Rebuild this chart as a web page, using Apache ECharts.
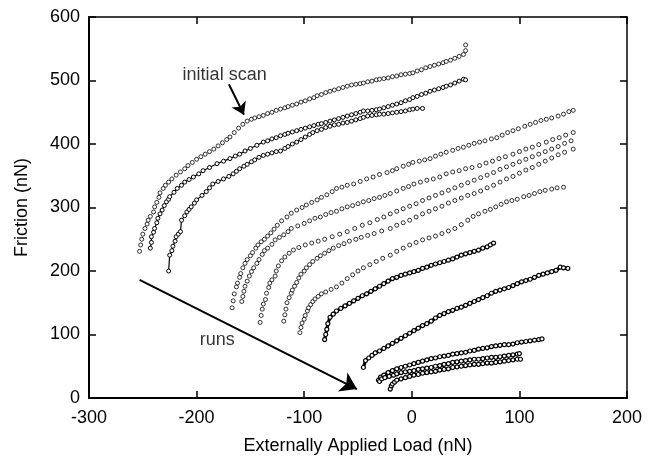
<!DOCTYPE html>
<html><head><meta charset="utf-8">
<script src="https://cdn.jsdelivr.net/npm/echarts@6/dist/echarts.min.js"></script>
<style>html,body{margin:0;padding:0;background:#fff}#c{width:648px;height:460px}</style>
</head><body><div id="c"></div>
<script>
const xAxisRange = [-300, 200];
const yAxisRange = [0, 600];
const tickStep = 100;
const xTitle = 'Externally Applied Load (nN)';
const yTitle = 'Friction (nN)';

// initial scan group (three top curves)
const scanA1 = [[-253,231],[-252,241],[-251,250],[-250,258],[-248,267],[-246,274],[-245,280],[-243,286],[-240,293],[-239,301],[-237,308],[-235,316],[-234,323],[-231,330],[-229,335],[-226,340],[-223,345],[-219,351],[-215,356],[-211,361],[-208,366],[-204,371],[-200,376],[-196,380],[-192,384],[-188,388],[-184,392],[-180,397],[-176,402],[-172,407],[-169,411],[-165,418],[-161,425],[-157,431],[-153,436],[-149,439],[-146,441],[-142,443],[-138,445],[-134,448],[-130,450],[-126,453],[-122,455],[-118,457],[-115,459],[-111,461],[-107,463],[-103,466],[-99,468],[-95,471],[-91,473],[-88,476],[-84,478],[-80,481],[-76,483],[-72,485],[-68,487],[-64,489],[-60,491],[-56,493],[-52,494],[-48,495],[-45,496],[-41,498],[-37,499],[-33,501],[-30,502],[-26,503],[-22,504],[-18,506],[-14,507],[-10,509],[-6,510],[-2,511],[1,512],[5,515],[9,517],[13,520],[17,522],[21,524],[25,526],[29,528],[32,530],[36,532],[40,535],[44,538],[48,541],[50,547],[50,556]];
const scanA2 = [[-243,236],[-242,245],[-242,254],[-240,261],[-239,267],[-237,276],[-236,283],[-234,290],[-232,296],[-230,303],[-228,309],[-226,313],[-225,317],[-221,324],[-218,330],[-214,335],[-211,340],[-207,344],[-203,348],[-198,353],[-194,358],[-188,363],[-181,369],[-175,373],[-169,377],[-164,381],[-160,384],[-155,389],[-150,393],[-144,398],[-138,403],[-134,405],[-130,408],[-126,410],[-122,413],[-118,415],[-115,417],[-111,419],[-107,421],[-103,423],[-99,425],[-95,427],[-91,429],[-87,431],[-84,432],[-80,434],[-76,436],[-72,438],[-68,440],[-64,442],[-60,444],[-56,446],[-52,448],[-48,450],[-45,452],[-41,452],[-37,453],[-33,454],[-30,455],[-26,457],[-22,459],[-18,461],[-14,463],[-10,465],[-6,468],[-2,470],[1,473],[5,475],[9,478],[13,480],[17,483],[21,485],[25,487],[29,489],[32,491],[36,493],[40,496],[44,499],[48,502],[50,501]];
const scanA3 = [[-226,200],[-225,225],[-223,232],[-222,239],[-220,247],[-219,254],[-217,258],[-215,262],[-214,280],[-211,287],[-209,293],[-207,297],[-205,301],[-202,307],[-200,312],[-195,319],[-191,325],[-188,331],[-185,337],[-180,341],[-175,345],[-170,349],[-166,353],[-163,357],[-160,361],[-156,365],[-153,368],[-149,372],[-146,375],[-142,379],[-138,382],[-134,384],[-130,386],[-126,388],[-122,389],[-118,393],[-115,396],[-111,400],[-107,403],[-103,407],[-99,411],[-95,415],[-92,418],[-88,421],[-84,423],[-80,426],[-76,428],[-72,430],[-68,431],[-64,433],[-60,434],[-56,436],[-52,438],[-48,440],[-45,442],[-41,444],[-37,445],[-33,446],[-30,447],[-26,447],[-22,448],[-18,449],[-14,450],[-10,451],[-6,452],[-2,454],[1,455],[5,456],[10,456]];

// later runs, sparse circles
const runB1 = [[-167,142],[-166,153],[-165,164],[-163,175],[-162,181],[-160,190],[-159,196],[-157,205],[-155,212],[-153,218],[-150,224],[-148,229],[-145,236],[-143,241],[-140,246],[-137,250],[-134,255],[-131,260],[-128,266],[-125,272],[-121,279],[-116,285],[-112,291],[-107,296],[-102,300],[-98,304],[-93,308],[-88,312],[-84,316],[-79,320],[-74,325],[-70,330],[-65,332],[-60,335],[-54,337],[-48,341],[-42,345],[-36,348],[-30,352],[-23,355],[-18,358],[-14,361],[-8,365],[-3,368],[1,371],[7,373],[12,375],[17,377],[22,381],[27,384],[32,387],[38,390],[43,393],[48,395],[53,398],[58,401],[63,403],[68,405],[74,408],[79,410],[84,414],[89,418],[94,421],[99,424],[105,428],[110,431],[115,434],[120,437],[125,439],[130,441],[136,444],[141,447],[146,451],[150,453]];
const runB2 = [[-158,152],[-157,160],[-156,168],[-155,176],[-153,184],[-151,192],[-149,199],[-147,205],[-144,212],[-142,218],[-139,226],[-137,232],[-134,236],[-130,242],[-127,249],[-123,253],[-119,257],[-115,262],[-112,267],[-106,271],[-100,275],[-95,279],[-90,283],[-85,285],[-80,289],[-75,292],[-70,294],[-65,298],[-60,301],[-55,303],[-50,306],[-45,309],[-40,311],[-35,314],[-30,316],[-25,319],[-20,322],[-14,326],[-8,330],[-3,333],[2,337],[8,340],[14,343],[20,345],[26,348],[32,353],[38,356],[44,358],[50,361],[56,363],[63,366],[69,370],[75,373],[81,377],[87,380],[94,384],[100,388],[106,392],[112,395],[118,399],[125,403],[131,407],[137,410],[143,414],[150,418]];
const runB3 = [[-141,119],[-140,130],[-139,140],[-138,148],[-136,155],[-135,165],[-133,174],[-132,181],[-130,186],[-127,192],[-126,200],[-124,208],[-121,216],[-118,222],[-114,228],[-110,233],[-105,237],[-99,241],[-93,244],[-87,247],[-81,250],[-74,254],[-67,258],[-60,262],[-53,267],[-46,272],[-39,276],[-32,281],[-26,285],[-20,290],[-14,294],[-8,298],[-2,302],[4,306],[10,311],[16,315],[22,319],[28,323],[34,327],[40,331],[46,335],[52,339],[58,343],[64,347],[70,351],[76,355],[82,360],[88,364],[94,368],[100,372],[106,376],[112,380],[118,384],[124,388],[130,392],[136,396],[142,401],[148,405]];
const runB4 = [[-119,121],[-118,131],[-117,140],[-116,150],[-114,158],[-112,165],[-111,170],[-109,176],[-107,182],[-105,189],[-103,195],[-100,200],[-98,205],[-95,210],[-92,215],[-88,220],[-85,224],[-81,228],[-77,232],[-73,236],[-68,240],[-63,243],[-58,247],[-52,250],[-47,253],[-41,256],[-35,259],[-28,263],[-20,267],[-14,272],[-8,276],[-2,280],[4,285],[10,290],[16,294],[22,298],[28,302],[34,307],[40,311],[46,315],[52,319],[58,322],[64,326],[70,331],[76,335],[82,340],[88,345],[94,349],[100,354],[106,359],[112,363],[118,368],[124,373],[130,378],[136,383],[142,387],[150,392]];
const runB5 = [[-104,103],[-103,111],[-102,118],[-100,124],[-99,130],[-97,137],[-96,142],[-94,147],[-92,152],[-90,156],[-87,160],[-84,164],[-80,167],[-75,171],[-70,175],[-65,181],[-60,188],[-55,194],[-50,200],[-45,205],[-39,210],[-33,215],[-27,220],[-20,225],[-14,231],[-8,236],[-2,241],[4,245],[10,249],[16,252],[22,255],[28,259],[34,263],[40,267],[46,273],[52,280],[57,286],[62,290],[68,294],[73,297],[78,301],[83,305],[88,309],[93,311],[98,313],[104,317],[109,319],[114,322],[119,325],[124,327],[130,329],[135,331],[141,332]];

// later runs, dense traces
const runC1 = [[-81,92],[-80,100],[-79,108],[-78,117],[-76,127],[-73,132],[-70,137],[-66,141],[-62,145],[-58,149],[-54,153],[-50,157],[-46,161],[-42,164],[-38,168],[-34,172],[-30,176],[-26,180],[-22,184],[-18,188],[-14,190],[-10,193],[-6,195],[-2,197],[2,199],[6,201],[10,204],[14,206],[18,209],[22,211],[26,213],[30,215],[34,217],[38,219],[42,222],[46,225],[50,227],[54,229],[58,231],[62,233],[66,236],[70,238],[73,241],[76,244]];
const runC2 = [[-45,48],[-43,59],[-40,63],[-37,67],[-34,71],[-30,74],[-26,78],[-22,82],[-18,86],[-14,90],[-10,94],[-6,98],[-2,102],[2,106],[6,110],[10,114],[14,117],[18,121],[22,126],[26,130],[30,133],[34,136],[38,138],[42,141],[46,143],[50,146],[54,149],[58,152],[62,155],[66,158],[70,161],[74,165],[78,168],[82,170],[86,172],[90,174],[94,177],[98,180],[102,183],[106,185],[110,187],[114,190],[118,193],[122,195],[126,197],[130,199],[134,201],[138,206],[141,205],[145,204]];
const runD1 = [[-31,28],[-29,33],[-26,36],[-22,40],[-18,43],[-14,46],[-10,48],[-6,50],[-2,52],[2,54],[6,56],[10,58],[14,60],[18,62],[22,63],[26,65],[30,66],[34,67],[38,69],[42,70],[46,71],[50,72],[54,74],[58,75],[62,77],[66,78],[70,79],[74,81],[78,82],[82,83],[86,84],[90,84],[94,85],[98,87],[102,88],[106,89],[110,90],[114,91],[118,92],[121,93]];
const runD2 = [[-30,26],[-28,30],[-25,32],[-21,34],[-17,36],[-14,38],[-10,40],[-6,41],[-2,42],[2,43],[6,45],[10,46],[14,47],[18,48],[22,50],[26,51],[30,53],[34,54],[38,56],[42,57],[46,58],[50,59],[54,60],[58,61],[62,61],[66,62],[70,63],[74,64],[78,64],[82,65],[86,66],[90,67],[94,68],[98,69],[100,70]];
const runD3 = [[-20,14],[-19,19],[-18,22],[-16,25],[-14,28],[-10,30],[-6,32],[-2,34],[2,36],[6,37],[10,39],[14,40],[18,41],[22,42],[26,44],[30,45],[34,46],[38,48],[42,49],[46,50],[50,51],[54,52],[58,53],[62,53],[66,54],[70,55],[74,55],[78,56],[82,57],[86,58],[90,59],[94,60],[98,61],[101,61]];

// annotations in data coordinates
const noteTexts = ['initial scan', 'runs'];
const notePos = [[-213, 509], [-197, 91]];
const arrowFrom = [[-170, 494], [-253, 186]];
const arrowTo = [[-156, 446], [-51, 14]];
const arrowHead = [12, 16];

const FONT = 'Liberation Sans, Arial, Helvetica, sans-serif';

const sparse = (d) => ({type:'scatter', data:d, symbol:'circle', symbolSize:4,
  itemStyle:{color:'#fff', borderColor:'#000', borderWidth:1}, silent:true});
const medium = (d) => ({type:'line', data:d, symbol:'circle', symbolSize:4, showSymbol:true, showAllSymbol:true,
  lineStyle:{color:'#000', width:1.2}, itemStyle:{color:'#fff', borderColor:'#000', borderWidth:1}, silent:true});
const dense = (d) => ({type:'line', data:d, symbol:'circle', symbolSize:4, showSymbol:true, showAllSymbol:true,
  lineStyle:{color:'#000', width:3.2}, itemStyle:{color:'#fff', borderColor:'#000', borderWidth:1.2}, silent:true});

const arrowSeries = arrowFrom.map((f, i) => ({
  type:'line', data:[], silent:true,
  markLine:{silent:true, animation:false, symbol:['none','arrow'], symbolSize:arrowHead[i],
    label:{show:false}, emphasis:{disabled:true},
    lineStyle:{color:'#000', width:2, type:'solid', opacity:1},
    itemStyle:{color:'#000'},
    data:[[{coord:f},{coord:arrowTo[i]}]]}
}));

const series = [
  sparse(scanA1), medium(scanA2), medium(scanA3),
  sparse(runB1), sparse(runB2), sparse(runB3), sparse(runB4), sparse(runB5),
  dense(runC1), dense(runC2), dense(runD1), dense(runD2), dense(runD3),
  {type:'scatter', data: notePos.map((p,i)=>({value:p, name:noteTexts[i]})), symbolSize:0, silent:true,
   label:{show:true, position:'right', distance:0, formatter:(p)=>p.name, color:'#000', fontSize:18, fontFamily:FONT}},
  ...arrowSeries
];

const tickCommon = {show:true, inside:true, length:7, lineStyle:{color:'#000', width:1.5}};
const chart = echarts.init(document.getElementById('c'), null, {renderer:'canvas'});
chart.setOption({
  animation:false,
  backgroundColor:'#fff',
  grid:{left:89, right:21, top:17, bottom:59},
  xAxis:[
    {type:'value', min:xAxisRange[0], max:xAxisRange[1], interval:tickStep, position:'bottom',
     name:xTitle, nameLocation:'middle', nameGap:39, nameTextStyle:{fontSize:18, color:'#000', fontFamily:FONT},
     axisLine:{show:true, onZero:false, lineStyle:{color:'#000', width:2}}, axisTick:tickCommon,
     axisLabel:{color:'#000', fontSize:18, margin:11, fontFamily:FONT}, splitLine:{show:false}},
    {type:'value', min:xAxisRange[0], max:xAxisRange[1], interval:tickStep, position:'top',
     axisLine:{show:true, onZero:false, lineStyle:{color:'#000', width:1.5}}, axisTick:tickCommon,
     axisLabel:{show:false}, splitLine:{show:false}}
  ],
  yAxis:[
    {type:'value', min:yAxisRange[0], max:yAxisRange[1], interval:tickStep, position:'left',
     name:yTitle, nameLocation:'middle', nameGap:58, nameRotate:90, nameTextStyle:{fontSize:18, color:'#000', fontFamily:FONT},
     axisLine:{show:true, onZero:false, lineStyle:{color:'#000', width:2}}, axisTick:tickCommon,
     axisLabel:{color:'#000', fontSize:18, margin:9, fontFamily:FONT}, splitLine:{show:false}},
    {type:'value', min:yAxisRange[0], max:yAxisRange[1], interval:tickStep, position:'right',
     axisLine:{show:true, onZero:false, lineStyle:{color:'#000', width:1.5}}, axisTick:tickCommon,
     axisLabel:{show:false}, splitLine:{show:false}}
  ],
  series: series
});
</script></body></html>
